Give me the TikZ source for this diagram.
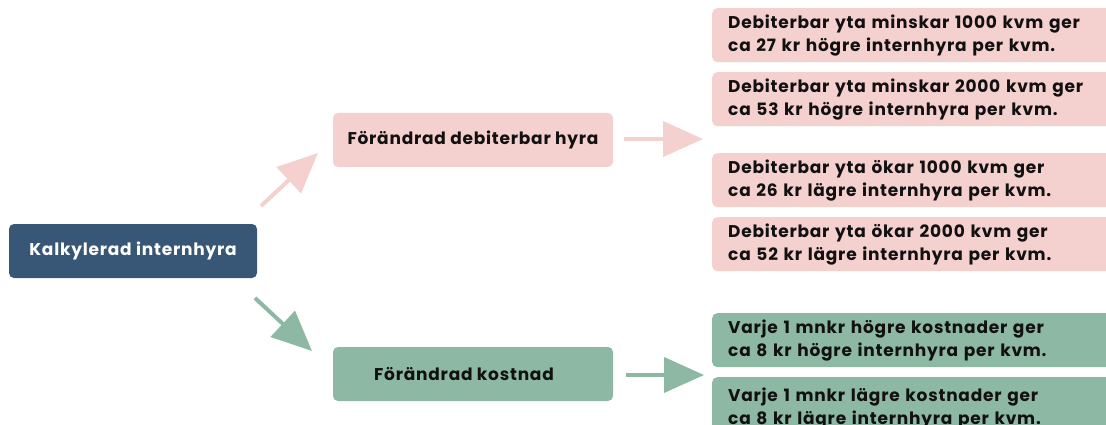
\documentclass[tikz,border=0pt]{standalone}
\usepackage{fontspec}
\setmainfont{Poppins}[UprightFont=* Bold, BoldFont=* Bold, LetterSpace=4.5]
\usetikzlibrary{arrows.meta}
\definecolor{navy}{HTML}{385675}
\definecolor{pinkbox}{HTML}{F4D0CE}
\definecolor{greenbox}{HTML}{8DB8A3}
\definecolor{ink}{HTML}{111111}
\tikzset{
  txt/.style={font=\fontsize{17}{23}\selectfont, text=ink},
  box/.style={txt, rounded corners=5pt, inner sep=0pt, minimum height=54pt},
  rbox/.style={box, anchor=north west, text width=390pt, inner xsep=16pt, align=left},
  conn/.style={line width=4pt, -{Triangle[length=40pt,width=35pt]}},
}
\begin{document}
\begin{tikzpicture}[x=1pt,y=-1pt]
\useasboundingbox (0,0) rectangle (1106,425);
\clip (0,0) rectangle (1106,425);
\node[box, fill=navy, text=white, minimum width=248pt] (k) at (133,251) {Kalkylerad internhyra};
\node[box, fill=pinkbox, minimum width=280pt] (fd) at (473,140) {Förändrad debiterbar hyra};
\node[box, fill=greenbox, minimum width=280pt] (fk) at (473,374) {};
\node[txt] (fkt) at (464,374) {Förändrad kostnad};
\node[rbox, fill=pinkbox] (p1) at (712,8) {Debiterbar yta minskar 1000 kvm ger\\ca 27 kr högre internhyra per kvm.};
\node[rbox, fill=pinkbox] (p2) at (712,72) {Debiterbar yta minskar 2000 kvm ger\\ca 53 kr högre internhyra per kvm.};
\node[rbox, fill=pinkbox] (p3) at (712,153) {Debiterbar yta ökar 1000 kvm ger\\ca 26 kr lägre internhyra per kvm.};
\node[rbox, fill=pinkbox] (p4) at (712,217) {Debiterbar yta ökar 2000 kvm ger\\ca 52 kr lägre internhyra per kvm.};
\node[rbox, fill=greenbox] (g1) at (712,313) {Varje 1 mnkr högre kostnader ger\\ca 8 kr högre internhyra per kvm.};
\node[rbox, fill=greenbox, minimum height=62pt] (g2) at (712,377) {Varje 1 mnkr lägre kostnader ger\\ca 8 kr lägre internhyra per kvm.};
\coordinate (a1s) at (261,206); \coordinate (a1e) at (318,153);
\coordinate (a2s) at (255,298); \coordinate (a2e) at (312,351);
\coordinate (a3s) at (624,139); \coordinate (a3e) at (703,139);
\coordinate (a4s) at (626,375); \coordinate (a4e) at (704,375);
\draw[conn, pinkbox] (a1s) -- (a1e);
\draw[conn, greenbox] (a2s) -- (a2e);
\draw[conn, pinkbox] (a3s) -- (a3e);
\draw[conn, greenbox] (a4s) -- (a4e);
\end{tikzpicture}
\end{document}
